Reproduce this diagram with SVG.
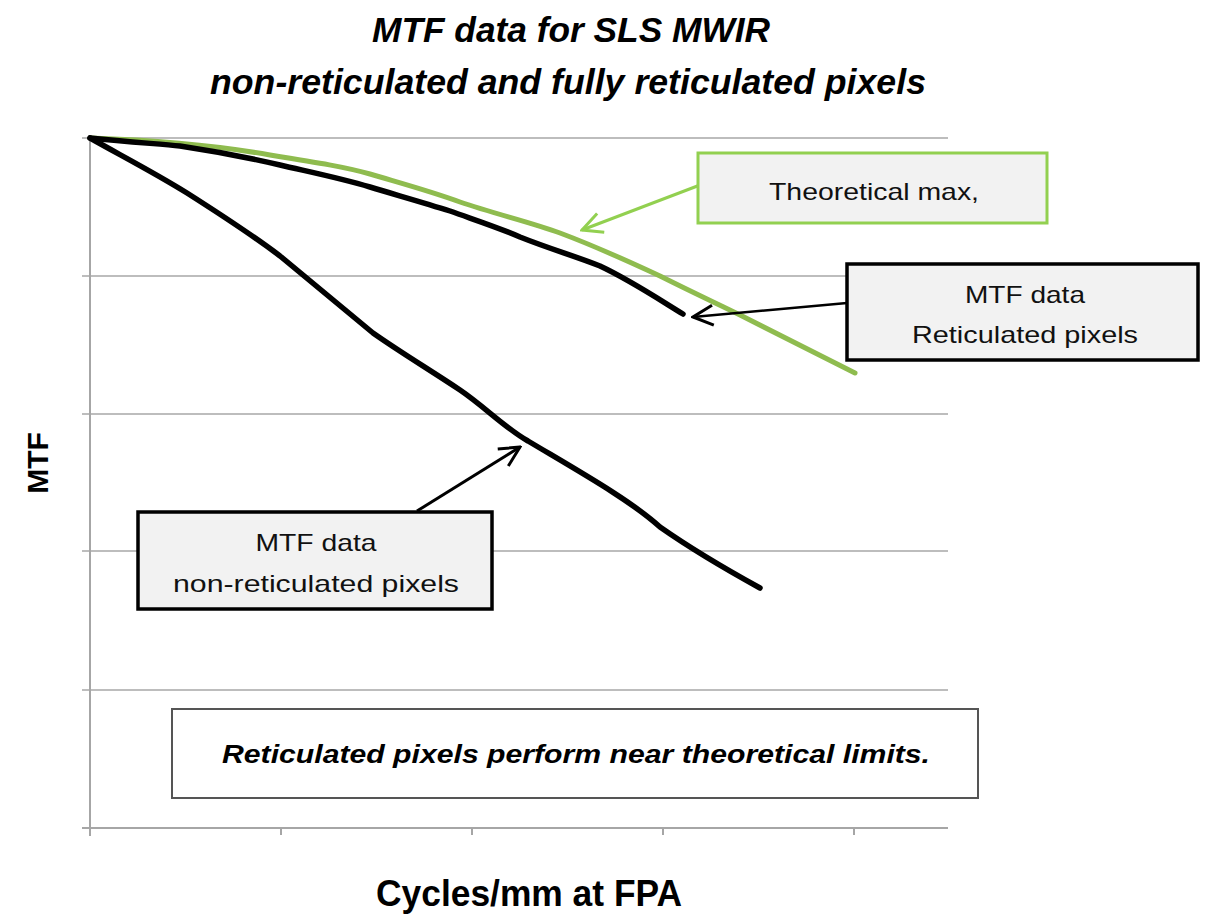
<svg xmlns="http://www.w3.org/2000/svg" width="1207" height="915" viewBox="0 0 1207 915">
<style>
.grid{stroke:#bdbdbd;stroke-width:2;fill:none}
.axis{stroke:#a6a6a6;stroke-width:2;fill:none}
.curve{fill:none;stroke-linecap:round;stroke-linejoin:round}
.box{fill:#f2f2f2}
.lbl{font-family:"Liberation Sans",Arial,sans-serif;font-size:24px;fill:#111;text-anchor:middle}
.ttl{font-family:"Liberation Sans",Arial,sans-serif;font-weight:bold;font-style:italic;font-size:35px;fill:#000;text-anchor:middle}
</style>
<defs>
<marker id="ag" markerWidth="24" markerHeight="24" refX="22" refY="12" orient="auto" markerUnits="userSpaceOnUse" viewBox="0 0 24 24">
<path d="M2,2 L22,12 L2,22" fill="none" stroke="#92d050" stroke-width="3"/>
</marker>
<marker id="ak" markerWidth="24" markerHeight="24" refX="22" refY="12" orient="auto" markerUnits="userSpaceOnUse" viewBox="0 0 24 24">
<path d="M2,2 L22,12 L2,22" fill="none" stroke="#000" stroke-width="3"/>
</marker>
</defs>
<rect width="1207" height="915" fill="#fff"/>
<g id="title">
<text class="ttl" x="571" y="42" textLength="398" lengthAdjust="spacingAndGlyphs">MTF data for SLS MWIR</text>
<text class="ttl" x="568" y="94" textLength="716" lengthAdjust="spacingAndGlyphs">non-reticulated and fully reticulated pixels</text>
</g>
<g id="axes">
<line class="grid" x1="82" y1="138" x2="948" y2="138"/>
<line class="grid" x1="82" y1="276" x2="948" y2="276"/>
<line class="grid" x1="82" y1="414" x2="948" y2="414"/>
<line class="grid" x1="82" y1="551" x2="948" y2="551"/>
<line class="grid" x1="82" y1="690" x2="948" y2="690"/>
<line class="axis" x1="82" y1="828" x2="948" y2="828"/>
<line class="axis" x1="90" y1="138" x2="90" y2="836"/>
<line class="axis" x1="281" y1="828" x2="281" y2="835"/>
<line class="axis" x1="472" y1="828" x2="472" y2="835"/>
<line class="axis" x1="663" y1="828" x2="663" y2="835"/>
<line class="axis" x1="854" y1="828" x2="854" y2="835"/>
<text x="37" y="463" transform="rotate(-90 37 463)" font-family="'Liberation Sans',Arial,sans-serif" font-weight="bold" font-size="30" text-anchor="middle" dominant-baseline="central">MTF</text>
<text x="529" y="906" font-family="'Liberation Sans',Arial,sans-serif" font-weight="bold" font-size="36" text-anchor="middle" textLength="306" lengthAdjust="spacingAndGlyphs">Cycles/mm at FPA</text>
</g>
<g id="curves">
<path id="curve-theoretical" class="curve" stroke="#8fbc4f" stroke-width="5" d="M90,138 C150,140 220,146 270,155 C320,163 345,167 370,174 C400,183 430,191 460,202 C495,214 530,222 560,233 C600,248 630,262 660,276 C700,296 720,305 740,315 C780,335 820,355 855,373"/>
<path id="curve-reticulated" class="curve" stroke="#000" stroke-width="5.5" d="M90,138 C130,142 160,144 180,146 C220,152 250,158 280,165 C310,172 340,178 370,187 C400,196 425,203 450,211 C475,220 500,228 520,237 C550,249 575,256 600,266 C630,280 660,300 683,314"/>
<path id="curve-nonreticulated" class="curve" stroke="#000" stroke-width="5.5" d="M90,138 C120,155 155,173 187,193 C220,214 255,237 280,256 C310,281 340,306 373,333 C400,352 430,370 460,390 C485,407 505,428 528,441 C580,472 630,500 660,527 C690,548 720,566 760,588"/>
</g>
<g id="connectors">
<line x1="700" y1="185" x2="582" y2="230" stroke="#92d050" stroke-width="3" marker-end="url(#ag)"/>
<line x1="847" y1="303" x2="693" y2="317" stroke="#000" stroke-width="2.5" marker-end="url(#ak)"/>
<line x1="417" y1="511" x2="520" y2="447" stroke="#000" stroke-width="3" marker-end="url(#ak)"/>
</g>
<g id="node-theoretical">
<rect class="box" x="698" y="153" width="349" height="70" stroke="#92d050" stroke-width="3"/>
<text class="lbl" x="874" y="200" textLength="210" lengthAdjust="spacingAndGlyphs">Theoretical max,</text>
</g>
<g id="node-reticulated">
<rect class="box" x="847" y="264" width="351" height="96" stroke="#000" stroke-width="3.5"/>
<text class="lbl" x="1025" y="303" textLength="120" lengthAdjust="spacingAndGlyphs">MTF data</text>
<text class="lbl" x="1025" y="343" textLength="226" lengthAdjust="spacingAndGlyphs">Reticulated pixels</text>
</g>
<g id="node-nonreticulated">
<rect class="box" x="138" y="512" width="354" height="97" stroke="#000" stroke-width="3.5"/>
<text class="lbl" x="316" y="551" textLength="121" lengthAdjust="spacingAndGlyphs">MTF data</text>
<text class="lbl" x="316" y="592" textLength="286" lengthAdjust="spacingAndGlyphs">non-reticulated pixels</text>
</g>
<g id="node-conclusion">
<rect x="172" y="709" width="806" height="89" fill="#fff" stroke="#555" stroke-width="2"/>
<text x="576" y="763" font-family="'Liberation Sans',Arial,sans-serif" font-weight="bold" font-style="italic" font-size="25" text-anchor="middle" textLength="708" lengthAdjust="spacingAndGlyphs">Reticulated pixels perform near theoretical limits.</text>
</g>
</svg>
